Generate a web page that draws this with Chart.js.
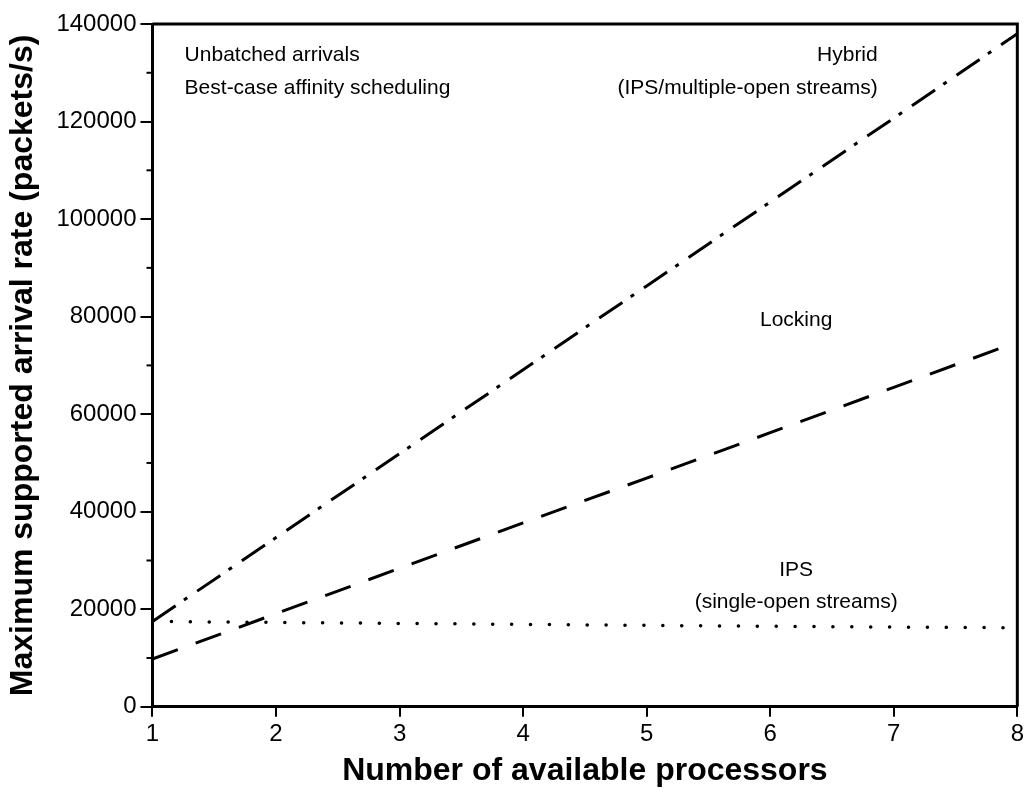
<!DOCTYPE html>
<html>
<head>
<meta charset="utf-8">
<script src="https://cdn.jsdelivr.net/npm/chart.js@4"></script>
<style>
  html, body { margin: 0; padding: 0; background: #fff; }
  #wrap { width: 1027px; height: 794px; }
</style>
</head>
<body>
<div id="wrap"><canvas id="myChart" width="1027" height="794"></canvas></div>
<script>
// DATA
const processors = [1, 2, 3, 4, 5, 6, 7, 8];
const hybridRate  = [17500, 34700, 51900, 69100, 86300, 103500, 120700, 138000];
const lockingRate = [9800, 19100, 28400, 37700, 46900, 56200, 65500, 74800];
const ipsRate     = [17500, 17300, 17100, 16900, 16700, 16500, 16350, 16200];
const yTicks = [0, 20000, 40000, 60000, 80000, 100000, 120000, 140000];

const FONT = "'Liberation Sans', Arial, sans-serif";

function pts(ys) {
    return processors.map((x, i) => ({ x: x, y: ys[i] }));
}

// frame, minor ticks and notes
const extras = {
    id: 'extras',
    afterDraw(chart) {
        const c = chart.ctx;
        const a = chart.chartArea;
        const xs = chart.scales.x, ys = chart.scales.y;
        c.save();
        c.strokeStyle = '#000';
        c.lineWidth = 3;
        c.beginPath();
        c.moveTo(a.left, a.top);
        c.lineTo(a.right, a.top);
        c.lineTo(a.right, a.bottom);
        c.stroke();
        // minor y ticks
        c.lineWidth = 2;
        for (let v = 10000; v < 140000; v += 20000) {
            const py = ys.getPixelForValue(v);
            c.beginPath();
            c.moveTo(a.left - 6, py);
            c.lineTo(a.left, py);
            c.stroke();
        }
        // notes
        c.fillStyle = '#000';
        c.font = '21px ' + FONT;
        c.textBaseline = 'middle';
        const note = (t, x, y, align) => {
            c.textAlign = align;
            c.fillText(t, xs.getPixelForValue(x), ys.getPixelForValue(y));
        };
        note('Unbatched arrivals', 1.26, 133600, 'left');
        note('Best-case affinity scheduling', 1.26, 126800, 'left');
        note('Hybrid', 6.87, 133600, 'right');
        note('(IPS/multiple-open streams)', 6.87, 126800, 'right');
        note('Locking', 6.21, 79300, 'center');
        note('IPS', 6.21, 28000, 'center');
        note('(single-open streams)', 6.21, 21400, 'center');
        c.restore();
    }
};

const ctx = document.getElementById('myChart').getContext('2d');
const myChart = new Chart(ctx, {
    type: 'line',
    data: {
        datasets: [
            {
                label: 'Hybrid',
                data: pts(hybridRate),
                borderColor: '#000',
                borderWidth: 3,
                borderDash: [28, 10, 4, 12],
                pointRadius: 0,
                tension: 0
            },
            {
                label: 'Locking',
                data: pts(lockingRate),
                borderColor: '#000',
                borderWidth: 3,
                borderDash: [27, 19],
                pointRadius: 0,
                tension: 0
            },
            {
                label: 'IPS',
                data: pts(ipsRate),
                borderColor: '#000',
                borderWidth: 3.5,
                borderDash: [0.1, 18.8],
                borderCapStyle: 'round',
                pointRadius: 0,
                tension: 0
            }
        ]
    },
    plugins: [extras],
    options: {
        responsive: false,
        animation: false,
        layout: { padding: { top: 24, right: 8, bottom: 4, left: 4 } },
        plugins: {
            legend: { display: false },
            tooltip: { enabled: false }
        },
        scales: {
            x: {
                type: 'linear',
                min: 1,
                max: 8,
                border: { color: '#000', width: 3 },
                grid: { drawOnChartArea: false, drawTicks: true, tickLength: 10, color: '#000', lineWidth: 2 },
                ticks: {
                    stepSize: 1,
                    color: '#000',
                    padding: 3,
                    font: { family: FONT, size: 24 }
                },
                title: {
                    display: true,
                    text: 'Number of available processors',
                    color: '#000',
                    padding: { top: 0, bottom: 0 },
                    font: { family: FONT, size: 32, weight: 'bold' }
                }
            },
            y: {
                min: 0,
                max: 140000,
                border: { color: '#000', width: 3 },
                grid: { drawOnChartArea: false, drawTicks: true, tickLength: 12, color: '#000', lineWidth: 2 },
                afterBuildTicks(scale) {
                    scale.ticks = yTicks.map(v => ({ value: v }));
                },
                ticks: {
                    color: '#000',
                    padding: 4,
                    font: { family: FONT, size: 24 },
                    callback: v => String(v)
                },
                title: {
                    display: true,
                    text: 'Maximum supported arrival rate (packets/s)',
                    color: '#000',
                    padding: { top: 0, bottom: 10 },
                    font: { family: FONT, size: 32, weight: 'bold' }
                }
            }
        }
    }
});
</script>
</body>
</html>
